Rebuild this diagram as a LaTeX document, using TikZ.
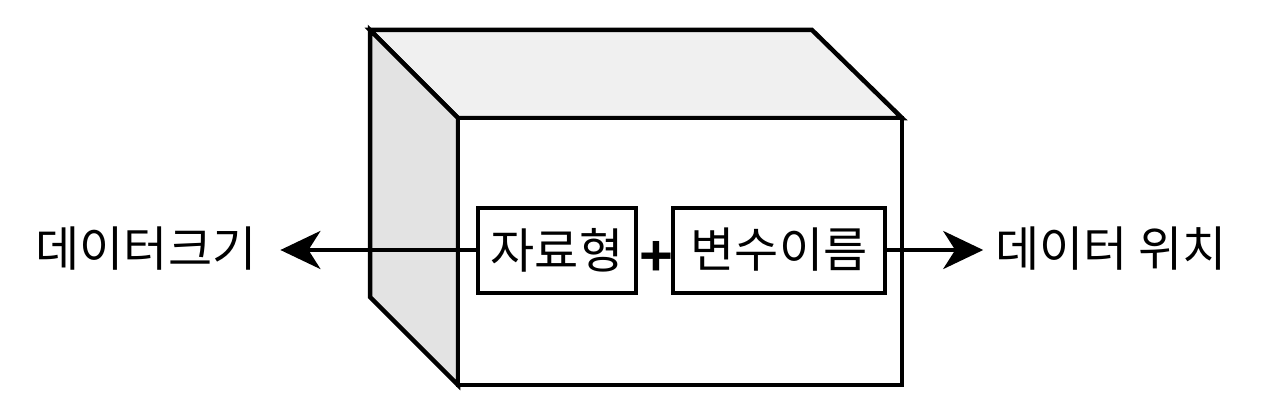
\documentclass[tikz,border=0pt]{standalone}
\usepackage{fontspec}
\setmainfont{Noto Sans CJK KR}
\newfontfamily\plusfont{Liberation Sans}
\usetikzlibrary{arrows.meta}
\tikzset{every picture/.style={line width=4pt}}
\tikzset{field/.style={draw,line width=4pt,minimum height=85pt,inner sep=0pt,font=\fontsize{48}{52}\selectfont},
  sidetext/.style={inner sep=0pt,font=\fontsize{48}{52}\selectfont},
  bigarrow/.style={-{Stealth[length=40pt,width=38pt,inset=12pt]},line width=4pt}}

\begin{document}
\begin{tikzpicture}[x=1pt,y=-1pt]
\useasboundingbox (0,0) rectangle (1264,412);
% the box
\filldraw[fill=black!6,line width=4.5pt] (370,30) -- (812,30) -- (902,118) -- (458,118) -- cycle;
\filldraw[fill=black!11,line width=4.5pt] (370,30) -- (458,118) -- (458,385) -- (370,297) -- cycle;
\filldraw[fill=white,line width=4.5pt] (458,118) rectangle (902,385);
% fields
\node[field,minimum width=158pt] (dtype) at (557,250) {자료형};
\node[field,minimum width=212pt] (vname) at (779,250) {변수이름};
\node[font=\plusfont\bfseries\fontsize{58}{58}\selectfont] (plus) at (656,258) {+};
\node[sidetext,outer sep=24pt] (size) at (146,249) {데이터크기};
\node[sidetext,outer sep=12pt] (place) at (1111,249) {데이터 위치};
\draw[bigarrow] (dtype.west) -- (size.east |- dtype.west);
\draw[bigarrow] (vname.east) -- (place.west |- vname.east);
\end{tikzpicture}
\end{document}
